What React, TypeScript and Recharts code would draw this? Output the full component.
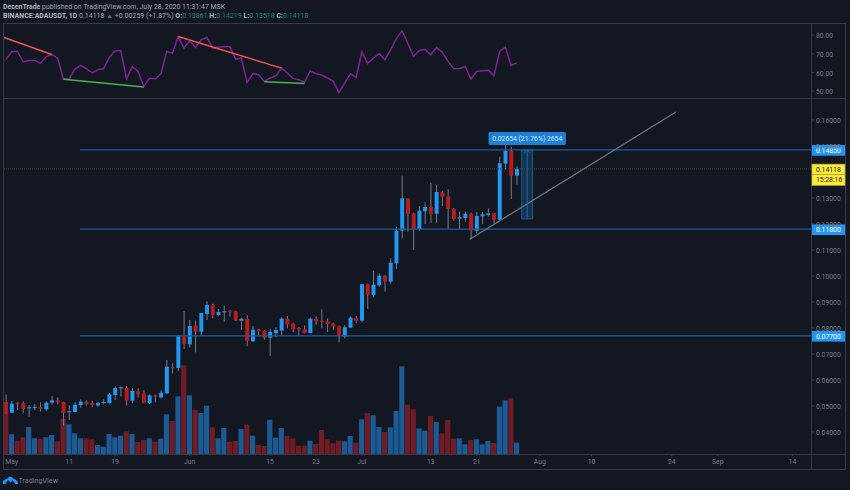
import React from 'react';
import {
  ComposedChart, LineChart, Line, Bar, Cell, XAxis, YAxis,
  ReferenceLine, ReferenceArea, ReferenceDot,
} from 'recharts';

const bg = '#131722';
const border = '#363a45';
const axisText = '#787b86';
const upColor = '#2196f3';
const downColor = '#b71c1c';
const wickColor = '#787b86';
const font = 'Roboto';

// day index 0 = Apr 30 2020
const opens = [
  .05154, .04744, .05128, .05103, .0491, .04936, .04962, .04872, .05128, .05218,
  .05154, .04756, .04769, .05038, .05167, .05115, .05026, .05115, .05115, .05423,
  .05679, .05692, .05205, .05564, .05487, .05115, .0541, .05333, .05487, .06487,
  .06462, .07679, .07372, .08102, .07859, .08538, .08897, .085, .08602, .08666,
  .08641, .08282, .08346, .07487, .07936, .07897, .07628, .07795, .07897, .08359,
  .08167, .08, .07949, .07808, .08346, .08282, .08256, .08167, .08064, .07679,
  .08013, .08397, .08282, .09681, .09269, .09642, .10012, .09781, .10488, .11742,
  .12973, .12412, .11808, .12488, .12654, .12396, .13231, .13065, .12577, .12204,
  .12231, .12396, .11742, .12296, .12346, .12412, .12165, .14319, .14808, .13861,
];
const highs = [
  .05449, .05192, .05167, .0518, .05026, .05064, .05141, .0518, .05385, .05333,
  .05167, .05026, .05141, .05256, .05218, .05205, .05154, .05256, .055, .05744,
  .05756, .05769, .05692, .05679, .05615, .05449, .05436, .05603, .06769, .06654,
  .07731, .08654, .08308, .08295, .0859, .09025, .08936, .08731, .08859, .08692,
  .08666, .08397, .085, .08077, .07974, .07923, .07974, .08026, .0841, .08461,
  .08205, .08038, .08102, .08397, .08449, .08718, .08372, .08205, .08102, .08102,
  .08436, .08461, .09692, .09712, .10204, .10104, .10027, .10681, .11896, .13858,
  .12988, .12435, .12692, .12835, .13588, .135, .13281, .13335, .12615, .12473,
  .12473, .12435, .12462, .12462, .12604, .12423, .14588, .15358, .14973, .14219,
];
const lows = [
  .04692, .04731, .04846, .04744, .0459, .04846, .04782, .04808, .05051, .05064,
  .04244, .04462, .04756, .04936, .05026, .04949, .04962, .05064, .0509, .05231,
  .05372, .05013, .05115, .05321, .05103, .05077, .05141, .05282, .05461, .06244,
  .06346, .07192, .07244, .07064, .07692, .08308, .08372, .08474, .08243, .08436,
  .08269, .07923, .07295, .07474, .07692, .07551, .06923, .07667, .07718, .07987,
  .07846, .07692, .07795, .07795, .08128, .07987, .07846, .07923, .07449, .07602,
  .08, .08192, .08218, .08731, .09204, .09588, .09396, .09704, .10269, .1145,
  .11704, .11, .11742, .12, .12038, .1205, .12692, .11796, .12127, .11796,
  .12088, .11412, .11642, .12, .12281, .12012, .12154, .14104, .12962, .13518,
];
const closes = [
  .04718, .0509, .0509, .04885, .04949, .04962, .04898, .05128, .05218, .05141,
  .04731, .04795, .05051, .05167, .0509, .05038, .05115, .05154, .05449, .05692,
  .05718, .05205, .05577, .05449, .05128, .0541, .05359, .05513, .06513, .06462,
  .07705, .07385, .08077, .07859, .08577, .08884, .085, .08615, .08641, .08641,
  .08282, .08346, .075, .07936, .07885, .07628, .07846, .07923, .08359, .08141,
  .07949, .07949, .07808, .08359, .08256, .08243, .08154, .08051, .07718, .08026,
  .08397, .08269, .09679, .09269, .09665, .10012, .09796, .10512, .11742, .12988,
  .12385, .11808, .12512, .12654, .12385, .13231, .1305, .12577, .12192, .12258,
  .12396, .11758, .12308, .12373, .12412, .12165, .14335, .14808, .13859, .14118,
];
// volume in millions of ADA
const volumes = [
  127, 59, 40, 50, 81, 47, 45, 50, 57, 38,
  105, 89, 62, 47, 47, 44, 27, 22, 60, 50,
  55, 68, 60, 36, 42, 47, 37, 46, 119, 99,
  173, 266, 176, 133, 123, 145, 80, 47, 78, 37,
  39, 75, 88, 55, 27, 24, 103, 49, 78, 54,
  47, 25, 25, 40, 30, 72, 44, 32, 40, 38,
  54, 34, 104, 123, 116, 81, 66, 80, 129, 263,
  148, 134, 77, 70, 114, 96, 62, 102, 46, 47,
  29, 42, 44, 29, 39, 33, 142, 161, 167, 34,
];
const rsiValues = [
  66.9, 71.3, 71.3, 65.8, 66.5, 66.5, 64.9, 68.6, 69.7, 67.7,
  56.6, 56.6, 61.9, 63.8, 62.1, 59.8, 61.5, 62.2, 68.1, 71.7,
  71.8, 56.6, 63.3, 60.8, 52.6, 57.1, 56.6, 59.4, 71.3, 70.4,
  79.3, 73.1, 77.2, 73.4, 77.5, 78.8, 73.1, 73.6, 73.8, 73.8,
  67.2, 67.7, 54.8, 59.4, 59.0, 55.3, 57.1, 58.2, 62.4, 59.8,
  56.9, 56.2, 54.8, 60.8, 59.4, 58.7, 57.1, 55.3, 49.4, 54.4,
  59.4, 57.4, 71.3, 64.9, 67.7, 70.2, 66.9, 72.2, 78.2, 82.3,
  75.7, 68.6, 71.8, 72.4, 69.5, 73.4, 70.9, 66.0, 62.1, 62.2,
  63.3, 56.6, 60.6, 61.0, 61.3, 58.3, 71.3, 73.6, 63.7, 65.3,
];

const timeTicks = [1, 11, 19, 32, 46, 54, 62, 74, 82, 93, 102, 116, 124, 137];
const timeLabels = ['May', '11', '19', 'Jun', '15', '23', 'Jul', '13', '21', 'Aug', '10', '24', 'Sep', '14'];
// 0.14000 sits fully behind the yellow tags in the original
const priceTicks = [.04, .05, .06, .07, .08, .09, .10, .11, .12, .13, .15, .16];
const rsiTicks = [50, 60, 70, 80];

const levels = [.1485, .118, .077];
const levelStart = 12.9;
const lastPrice = .14118;
const countdown = '15:28:16';

// drawings on the rsi pane, [day, rsi] pairs
const redTrends = [[[-0.35, 78.8], [8, 69.7]], [[30, 79.3], [48, 62.4]]];
const greenTrends = [[[10, 56.4], [24, 52.3]], [[45, 55.1], [52, 54.2]]];
// rising line on the price pane
const riseLine = [[80.8, .11412], [116.7, .16308]];
// price range measure
const measure = { x1: 89.85, x2: 91.75, mid: 90.8, from: .12196, to: .1485, labelY: .15288 };
const measureArrow = [[90.3, .14735], [90.8, .1485], [91.3, .14735]];

const xDomain = [-0.35, 140.24];
const priceDomain = [.03154, .16808];
const volDomain = [0, 1065];
const rsiDomain = [46.4, 86];

const rows = opens.map((open, i) => ({
  day: i,
  open,
  high: highs[i],
  low: lows[i],
  close: closes[i],
  volume: volumes[i],
  rsi: rsiValues[i],
}));

const Candle = (props: any) => {
  const { x, y, width, height, payload } = props;
  if (height == null) return null;
  const perUnit = height / (payload.high - payload.low);
  const top = y + (payload.high - Math.max(payload.open, payload.close)) * perUnit;
  const bottom = y + (payload.high - Math.min(payload.open, payload.close)) * perUnit;
  const up = payload.close >= payload.open;
  const cx = x + width / 2;
  return (
    <g>
      <line x1={cx} x2={cx} y1={y} y2={y + height} stroke={wickColor} strokeWidth={1} />
      <rect x={x} y={top} width={width} height={Math.max(bottom - top, 1)} fill={up ? upColor : downColor} />
    </g>
  );
};

const PriceTag = (fill: string, color: string, text: string, dy = 0, edge = 'none') => (props: any) => {
  const { cx, cy } = props;
  return (
    <g>
      <rect x={cx + 1} y={cy - 4.8 + dy} width={33} height={10.6} fill={fill} stroke={edge} strokeWidth={0.7} />
      <text x={cx + 5} y={cy + 2.9 + dy} fontSize={6.8} fontFamily={font} fill={color}>{text}</text>
    </g>
  );
};

const MeasureLabel = (props: any) => {
  const { cx, cy } = props;
  return (
    <g>
      <rect x={cx - 38.7} y={cy - 6.5} width={77.4} height={13} rx={1.5} fill="#1e7fd6" />
      <text x={cx} y={cy + 2.4} textAnchor="middle" fontSize={6.8} fontFamily={font} fill="#d6e6f5">
        0.02654 (21.76%) 2654
      </text>
    </g>
  );
};

const hLine = (top: number, left: number, width: number) => (
  <div style={{ position: 'absolute', top, left, width, height: 1, background: border }} />
);
const num = { color: '#1f8a7d' };
const strong = { fontWeight: 700, color: '#b2b5be' };

const App = () => (
  <div style={{ position: 'absolute', left: 0, top: 0, width: 850, height: 490, background: bg, overflow: 'hidden', fontFamily: font }}>
    <div style={{ position: 'absolute', left: 3, top: 3, fontSize: 6.95, lineHeight: '9px', color: '#a3a6af', whiteSpace: 'nowrap' }}>
      <span style={strong}>DecenTrade</span> published on TradingView.com, July 28, 2020 11:31:47 MSK
    </div>
    <div style={{ position: 'absolute', left: 3, top: 12, fontSize: 7, lineHeight: '9px', color: '#a3a6af', whiteSpace: 'nowrap' }}>
      <span style={strong}>BINANCE:ADAUSDT, 1D</span> 0.14118 <span style={num}>▲</span> +0.00259 (+1.87%) <span style={strong}>O:</span><span style={num}>0.13861</span> <span style={strong}>H:</span><span style={num}>0.14219</span> <span style={strong}>L:</span><span style={num}>0.13518</span> <span style={strong}>C:</span><span style={num}>0.14118</span>
    </div>

    <div style={{ position: 'absolute', left: 3, top: 23, width: 843, height: 447, border: `1px solid ${border}`, boxSizing: 'border-box' }} />
    <div style={{ position: 'absolute', left: 811, top: 23, width: 1, height: 447, background: border }} />
    {hLine(98, 3, 843)}
    {hLine(454, 3, 843)}

    <div style={{ position: 'absolute', left: 0, top: 0 }}>
      <LineChart width={850} height={98} data={rows} margin={{ top: 24, right: 4, left: 4, bottom: 0 }}>
        <XAxis dataKey="day" type="number" domain={xDomain} hide allowDataOverflow />
        <YAxis
          orientation="right"
          width={35}
          domain={rsiDomain}
          ticks={rsiTicks}
          allowDataOverflow
          interval={0}
          axisLine={false}
          tickSize={3}
          tickLine={{ stroke: border }}
          tick={{ fill: axisText, fontSize: 6.8, fontFamily: font, dy: 0.7 }}
          tickFormatter={(v: number) => v.toFixed(2)}
        />
        <Line dataKey="rsi" type="linear" stroke="#7f2296" strokeWidth={1.5} dot={false} isAnimationActive={false} />
        {redTrends.map((t, i) => (
          <ReferenceLine key={`r${i}`} segment={[{ x: t[0][0], y: t[0][1] }, { x: t[1][0], y: t[1][1] }]} stroke="#ef5350" strokeWidth={1.5} ifOverflow="visible" />
        ))}
        {greenTrends.map((t, i) => (
          <ReferenceLine key={`g${i}`} segment={[{ x: t[0][0], y: t[0][1] }, { x: t[1][0], y: t[1][1] }]} stroke="#4caf50" strokeWidth={1.5} ifOverflow="visible" />
        ))}
      </LineChart>
    </div>

    <div style={{ position: 'absolute', left: 0, top: 0 }}>
      <ComposedChart width={850} height={490} data={rows} margin={{ top: 99, right: 4, left: 4, bottom: 16 }}>
        <XAxis
          xAxisId="time"
          dataKey="day"
          type="number"
          domain={xDomain}
          ticks={timeTicks}
          interval={0}
          allowDataOverflow
          height={20}
          axisLine={false}
          tickSize={2}
          tickMargin={3}
          tickLine={{ stroke: border }}
          tick={{ fill: axisText, fontSize: 6.8, fontFamily: font }}
          tickFormatter={(v: number) => timeLabels[timeTicks.indexOf(v)]}
        />
        <XAxis xAxisId="vol" dataKey="day" type="number" domain={xDomain} hide allowDataOverflow />
        <YAxis
          yAxisId="price"
          orientation="right"
          width={35}
          domain={priceDomain}
          ticks={priceTicks}
          allowDataOverflow
          interval={0}
          axisLine={false}
          tickSize={3}
          tickLine={{ stroke: border }}
          tick={{ fill: axisText, fontSize: 6.8, fontFamily: font, dy: 0.7 }}
          tickFormatter={(v: number) => v.toFixed(5)}
        />
        <YAxis yAxisId="volume" domain={volDomain} hide allowDataOverflow />

        <Bar xAxisId="vol" yAxisId="volume" dataKey="volume" barSize={5.2} isAnimationActive={false}>
          {rows.map((r) => (
            <Cell key={r.day} fill={r.close >= r.open ? '#1c5a94' : '#6e1c25'} />
          ))}
        </Bar>

        <ReferenceLine xAxisId="time" yAxisId="price" y={lastPrice} stroke="#4c482f" strokeDasharray="1 1" />
        <ReferenceDot xAxisId="time" yAxisId="price" x={measure.mid} y={measure.labelY} shape={MeasureLabel} />
        <Bar
          xAxisId="time"
          yAxisId="price"
          dataKey={(d: any) => [d.low, d.high]}
          barSize={4}
          shape={Candle}
          isAnimationActive={false}
        />

        {levels.map((l) => (
          <ReferenceLine
            key={l}
            xAxisId="time"
            yAxisId="price"
            segment={[{ x: levelStart, y: l }, { x: xDomain[1], y: l }]}
            stroke="#1c5f9e"
            strokeWidth={1.2}
          />
        ))}
        <ReferenceLine
          xAxisId="time"
          yAxisId="price"
          segment={[{ x: riseLine[0][0], y: riseLine[0][1] }, { x: riseLine[1][0], y: riseLine[1][1] }]}
          stroke="#6f7280"
          strokeWidth={1.3}
        />
        <ReferenceArea
          xAxisId="time"
          yAxisId="price"
          x1={measure.x1}
          x2={measure.x2}
          y1={measure.from}
          y2={measure.to}
          fill="#2196f3"
          fillOpacity={0.22}
          stroke="#1c5a94"
          strokeOpacity={1}
        />
        <ReferenceLine
          xAxisId="time"
          yAxisId="price"
          segment={[{ x: measure.mid, y: measure.from }, { x: measure.mid, y: measure.to }]}
          stroke="#1f66a8"
        />
        <ReferenceLine
          xAxisId="time"
          yAxisId="price"
          segment={[{ x: measureArrow[0][0], y: measureArrow[0][1] }, { x: measureArrow[1][0], y: measureArrow[1][1] }]}
          stroke="#1f66a8"
        />
        <ReferenceLine
          xAxisId="time"
          yAxisId="price"
          segment={[{ x: measureArrow[1][0], y: measureArrow[1][1] }, { x: measureArrow[2][0], y: measureArrow[2][1] }]}
          stroke="#1f66a8"
        />

        {levels.map((l) => (
          <ReferenceDot
            key={`tag${l}`}
            xAxisId="time"
            yAxisId="price"
            x={xDomain[1]}
            y={l}
            shape={PriceTag(upColor, '#ffffff', l.toFixed(5))}
          />
        ))}
        <ReferenceDot xAxisId="time" yAxisId="price" x={xDomain[1]} y={lastPrice} shape={PriceTag('#ffeb3b', '#131722', lastPrice.toFixed(5), 0, '#b8a92a')} />
        <ReferenceDot xAxisId="time" yAxisId="price" x={xDomain[1]} y={lastPrice} shape={PriceTag('#ffeb3b', '#131722', countdown, 10.6, '#b8a92a')} />
      </ComposedChart>
    </div>

    <svg style={{ position: 'absolute', left: 3, top: 475 }} width={15} height={10} viewBox="0 0 15 10">
      <path d="M0 9 L0 6.5 C1 4.5 3 4 4.5 3.5 C5.5 1 9 1 10 3.5 C12 4 14 5.5 15 7 L15 9 L12.5 9 L9.5 5.5 L7.5 7.5 L5 5 L2.5 9 Z" fill={upColor} />
    </svg>
    <div style={{ position: 'absolute', left: 18.5, top: 475.5, fontSize: 7.2, lineHeight: '10px', color: axisText }}>TradingView</div>
  </div>
);

export default App;
